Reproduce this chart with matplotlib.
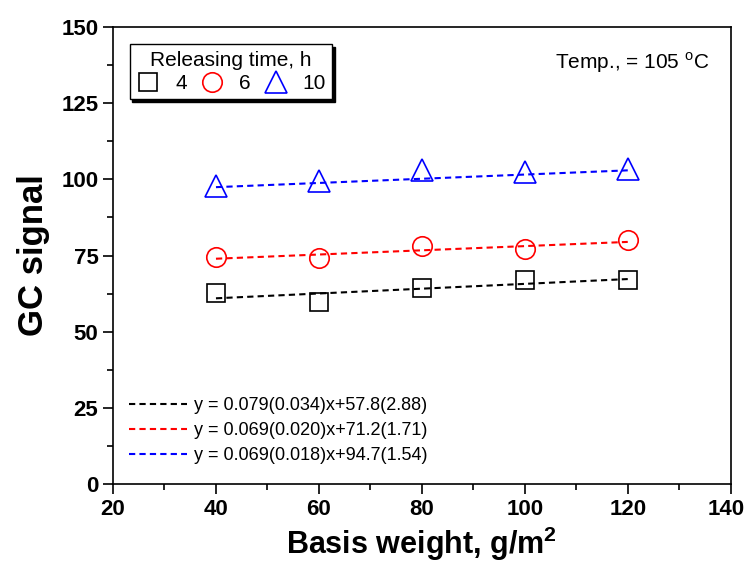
import matplotlib.pyplot as plt
import matplotlib.transforms as mtransforms
import numpy as np
from matplotlib.ticker import MultipleLocator

plt.rcParams['font.family'] = ['Liberation Sans', 'DejaVu Sans']

basis_weight = [40, 60, 80, 100, 120]
gc_4h = [62.7, 59.7, 64.3, 67.0, 67.0]
gc_6h = [74.5, 74.2, 78.1, 77.1, 80.1]
gc_10h = [97.8, 99.5, 103.1, 102.4, 103.4]

times = ['4', '6', '10']
slopes = [0.079, 0.069, 0.069]
intercepts = [57.8, 71.2, 94.7]
fit_labels = ['y = 0.079(0.034)x+57.8(2.88)',
              'y = 0.069(0.020)x+71.2(1.71)',
              'y = 0.069(0.018)x+94.7(1.54)']
xticks = [20, 40, 60, 80, 100, 120, 140]

colors = ['black', 'red', 'blue']
markers = ['s', 'o', '^']
msizes = [13, 14, 16]

fig = plt.figure(figsize=(7.46, 5.66), dpi=100)
ax = fig.add_axes([0.1515, 0.145, 0.828, 0.807])

x = np.array(basis_weight)
pts = []
for ys, c, m, ms, t in zip([gc_4h, gc_6h, gc_10h], colors, markers, msizes, times):
    p, = ax.plot(x, ys, linestyle='none', marker=m, markersize=ms,
                 markerfacecolor='none', markeredgecolor=c, markeredgewidth=1.2,
                 label=t)
    pts.append(p)

fits = []
for a, b, c, lab in zip(slopes, intercepts, colors, fit_labels):
    l, = ax.plot(x, a * x + b, linestyle=(0, (3, 2)), color=c, linewidth=1.5, label=lab)
    fits.append(l)

ax.set_xlim(20, 140)
ax.set_ylim(0, 150)
ax.set_xticks(xticks)
ax.xaxis.set_minor_locator(MultipleLocator(10))
ax.yaxis.set_major_locator(MultipleLocator(25))
ax.yaxis.set_minor_locator(MultipleLocator(12.5))
ax.tick_params(which='both', direction='out', top=False, right=False, width=1.2)
ax.tick_params(which='major', length=7, labelsize=16)
ax.tick_params(which='minor', length=4)
for lab in ax.get_yticklabels():
    lab.set_fontweight('bold')
xlabs = ax.get_xticklabels()
for lab in xlabs:
    lab.set_fontweight('bold')
# last label would run past the right edge, pull it in a little
xlabs[-1].set_horizontalalignment('right')
xlabs[-1].set_transform(xlabs[-1].get_transform() +
                        mtransforms.ScaledTranslation(14 / 100, 0, fig.dpi_scale_trans))
for s in ax.spines.values():
    s.set_linewidth(1.2)

ax.set_xlabel('Basis weight, g/m$^\\mathregular{2}$', fontsize=22, fontweight='bold', labelpad=4)
ax.set_ylabel('GC signal', fontsize=25, fontweight='bold', labelpad=8)

leg1 = ax.legend(handles=pts, title='Releasing time, h', ncol=3, loc='upper left',
                 bbox_to_anchor=(0.01, 0.985), fontsize=15, title_fontsize=15,
                 frameon=True, fancybox=False, edgecolor='black', framealpha=1,
                 shadow={'color': 'black', 'alpha': 1},
                 handletextpad=0.7, columnspacing=0.6, handlelength=1.2,
                 borderpad=0.3, labelspacing=0.2)
leg1.get_frame().set_linewidth(1.0)
ax.add_artist(leg1)

ax.legend(handles=fits, loc='lower left', bbox_to_anchor=(0.0, 0.007), frameon=False,
          fontsize=13, handlelength=3.2, handletextpad=0.4, labelspacing=0.45)

ax.text(0.965, 0.95, 'Temp., = 105 $^\\mathregular{o}$C', transform=ax.transAxes,
        ha='right', va='top', fontsize=15)

fig.savefig('out.png', dpi=100)
